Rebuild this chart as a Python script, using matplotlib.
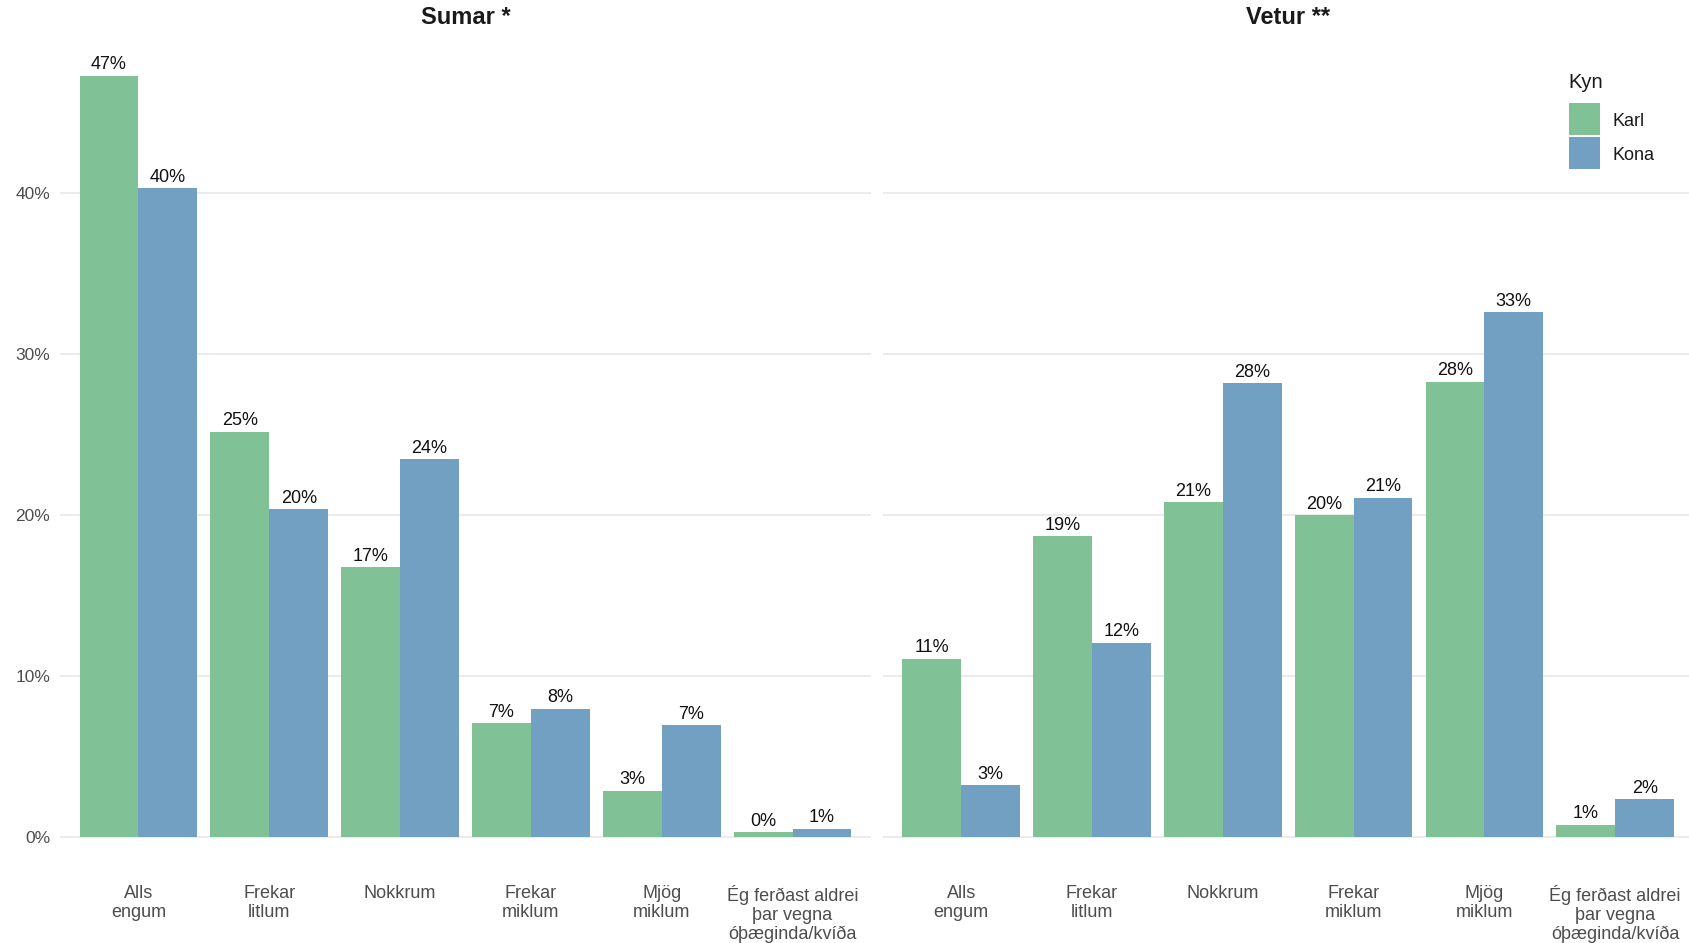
import matplotlib
matplotlib.use("Agg")
import matplotlib.pyplot as plt
from matplotlib.patches import Rectangle
import numpy as np

plt.rcParams['font.family'] = ['Liberation Sans', 'DejaVu Sans']

categories = ["Alls\nengum", "Frekar\nlitlum", "Nokkrum", "Frekar\nmiklum",
              "Mjög\nmiklum", "Ég ferðast aldrei\nþar vegna\nóþæginda/kvíða"]
panels = ["Sumar *", "Vetur **"]
groups = ["Karl", "Kona"]

sumar_karl = [47.3, 25.2, 16.8, 7.1, 2.9, 0.35]
sumar_kona = [40.3, 20.4, 23.5, 8.0, 6.95, 0.55]
vetur_karl = [11.1, 18.7, 20.8, 20.0, 28.3, 0.8]
vetur_kona = [3.26, 12.1, 28.2, 21.1, 32.6, 2.4]

yticks = [0, 10, 20, 30, 40]
ytick_labels = ["0%", "10%", "20%", "30%", "40%"]

colors = {"Karl": "#80C296", "Kona": "#71A0C2"}

W, H = 1690, 943
fig = plt.figure(figsize=(W / 100, H / 100), dpi=100)

data = {"Sumar *": {"Karl": sumar_karl, "Kona": sumar_kona},
        "Vetur **": {"Karl": vetur_karl, "Kona": vetur_kona}}

allmax = max(max(v) for p in data.values() for v in p.values())
ylo, yhi = -0.05 * allmax, allmax * 1.05

ax_bottom_px, ax_top_px = 875.5, 37.5
ax_w_px = 811
lefts = [60, 882.7]

x = np.arange(len(categories))
bw = 0.45
for pi, pname in enumerate(panels):
    ax = fig.add_axes([lefts[pi] / W, (H - ax_bottom_px) / H, ax_w_px / W,
                       (ax_bottom_px - ax_top_px) / H])
    ax.set_xlim(-0.6, len(categories) - 0.4)
    ax.set_ylim(ylo, yhi)
    for s in ax.spines.values():
        s.set_visible(False)
    ax.set_yticks(yticks)
    ax.yaxis.grid(True, color="#EBEBEB", linewidth=1.4)
    ax.set_axisbelow(True)
    ax.tick_params(length=0)
    if pi == 0:
        ax.set_yticklabels(ytick_labels, fontsize=12.5, color="#4D4D4D")
        ax.tick_params(axis="y", pad=7)
    else:
        ax.set_yticklabels([])
    ax.set_xticks(x)
    ax.set_xticklabels(categories, fontsize=13, color="#4D4D4D", linespacing=1.12)
    ax.tick_params(axis="x", pad=7)
    for gi, g in enumerate(groups):
        vals = data[pname][g]
        xs = x + (gi - 0.5) * bw
        ax.bar(xs, vals, width=bw, color=colors[g], linewidth=0)
        for xi, v in zip(xs, vals):
            ax.annotate(f"{int(round(v))}%", (xi, v), xytext=(0, 4.5),
                        textcoords="offset points", ha="center", va="baseline",
                        fontsize=13, color="#111111")
    cx = (lefts[pi] + ax_w_px / 2) / W
    fig.text(cx, 1 - 18 / H, pname, ha="center", va="center", fontsize=17,
             fontweight="bold", color="#1A1A1A")

# legend
fig.text(1568 / W, 1 - 83 / H, "Kyn", ha="left", va="center", fontsize=14.5,
         color="#1A1A1A")
key_tops = [103.5, 137.5]
for g, kt in zip(groups, key_tops):
    fig.patches.append(Rectangle((1569 / W, 1 - (kt + 31) / H), 31 / W, 31 / H,
                                 transform=fig.transFigure, facecolor=colors[g],
                                 edgecolor="none"))
    fig.text(1613 / W, 1 - (kt + 17.5) / H, g, ha="left", va="center",
             fontsize=13, color="#1A1A1A")

fig.savefig("out.png", dpi=100)
